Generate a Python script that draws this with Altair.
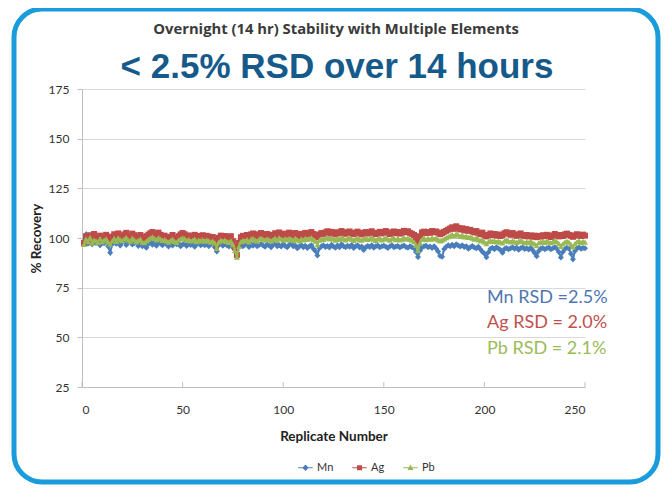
import altair as alt
import pandas as pd

# ---------------- data ----------------
series_names = ["Mn", "Ag", "Pb"]
series_colors = ["#4a7ebb", "#be4b48", "#98b954"]
series_shapes = ["diamond", "square", "triangle-up"]

mn = [98.5, 101.8, 97.2, 99.6, 96.8, 98.9, 97.5, 100.2, 96.4, 98.1,
      97.3, 99.0, 95.8, 92.6, 96.9, 98.4, 97.1, 99.3, 96.2, 97.8,
      98.6, 96.5, 97.9, 99.1, 96.7, 97.4, 98.2, 96.0, 97.6, 95.9,
      96.3, 95.1, 97.0, 98.3, 96.6, 97.7, 96.1, 98.0, 97.2, 96.4,
      97.8, 96.9, 95.7, 97.5, 96.2, 98.1, 96.8, 97.3, 95.9, 96.7,
      97.4, 96.0, 98.2, 96.5, 97.1, 95.6, 96.9, 97.7, 96.3, 97.0,
      96.4, 97.6, 95.8, 96.8, 97.2, 95.4, 93.2, 96.5, 97.3, 96.1,
      97.0, 96.3, 95.7, 96.9, 95.2, 96.0, 93.8, 96.4, 97.1, 95.9,
      96.6, 97.3, 95.5, 96.8, 96.1, 97.4, 95.8, 96.5, 97.0, 96.2,
      95.6, 96.9, 96.3, 95.4, 96.7, 97.2, 95.9, 96.4, 95.7, 96.8,
      96.0, 95.3, 96.6, 97.1, 95.8, 96.2, 94.9, 95.7, 96.5, 95.4,
      96.1, 95.0, 95.8, 96.4, 94.6, 93.4, 91.2, 94.8, 95.9, 96.3,
      95.5, 96.0, 95.2, 96.6, 95.7, 95.1, 96.2, 95.4, 96.8, 95.9,
      95.3, 96.1, 95.6, 96.5, 95.0, 95.8, 96.3, 95.2, 95.7, 93.9,
      95.4, 96.0, 95.5, 96.4, 95.1, 95.9, 96.2, 95.3, 95.8, 96.1,
      95.6, 95.0, 95.9, 96.3, 95.4, 95.7, 96.0, 95.2, 95.8, 96.2,
      95.5, 95.1, 95.9, 95.3, 94.8, 93.0, 90.4, 93.6, 95.2, 95.8,
      96.1, 95.4, 95.7, 95.0, 95.9, 94.7, 93.2, 91.0, 90.6, 94.5,
      95.6, 96.3, 95.8, 96.6, 95.9, 96.8, 96.2, 95.7, 96.4, 95.5,
      95.9, 94.6, 95.3, 96.0, 95.2, 94.8, 95.6, 94.3, 93.1, 92.2,
      90.3, 92.8, 94.6, 95.1, 94.4, 95.3, 94.7, 94.0, 92.6, 94.5,
      95.0, 94.3, 94.9, 95.4, 94.6, 95.2, 94.1, 94.8, 95.3, 94.5,
      94.9, 94.2, 95.1, 93.8, 92.4, 90.8, 93.5, 94.7, 95.0, 94.4,
      94.8, 95.2, 94.3, 94.9, 95.4, 94.6, 93.0, 90.2, 92.9, 94.5,
      95.1, 94.7, 92.1, 89.3, 93.4, 94.8, 95.2, 94.6, 95.0, 94.9]

ag = [97.5, 100.8, 99.2, 101.4, 98.6, 102.0, 100.1, 99.4, 101.2, 100.5,
      99.8, 101.6, 100.3, 98.9, 100.7, 101.9, 100.2, 102.3, 101.0, 100.4,
      101.8, 102.6, 101.1, 100.5, 102.2, 101.4, 99.9, 100.8, 101.5, 100.2,
      99.6, 100.9, 101.7, 102.4, 103.0, 102.1, 101.3, 102.7, 101.6, 100.8,
      101.2, 100.4, 99.3, 100.6, 101.5, 100.0, 99.5, 100.9, 101.8, 102.5,
      101.9, 100.7, 101.3, 100.1, 100.8, 101.6, 100.3, 101.0, 100.6, 101.4,
      100.2, 101.1, 100.7, 99.8, 100.5, 99.2, 97.0, 100.1, 101.2, 100.6,
      101.0, 100.3, 99.6, 100.9, 98.4, 95.2, 91.5, 97.6, 100.4, 101.1,
      100.7, 101.5, 100.2, 101.8, 102.3, 101.4, 100.6, 101.9, 102.5, 101.7,
      101.2, 102.0, 101.5, 100.8, 101.6, 102.4, 101.1, 102.8, 101.9, 101.3,
      102.2, 101.6, 102.7, 101.9, 101.2, 102.5, 101.8, 101.0, 102.1, 101.4,
      102.6, 101.7, 102.3, 103.0, 102.0, 101.5, 100.3, 101.8, 102.5, 101.9,
      102.8, 103.4, 102.2, 103.1, 102.6, 101.8, 102.9, 102.3, 103.5, 102.7,
      102.1, 102.9, 103.3, 102.5, 101.9, 102.7, 103.2, 102.4, 101.8, 102.6,
      103.0, 102.2, 102.8, 103.4, 102.5, 101.9, 102.6, 103.1, 102.3, 102.9,
      103.5, 102.7, 102.0, 102.8, 103.3, 102.4, 103.0, 102.2, 102.7, 103.6,
      102.9, 103.4, 102.6, 102.1, 101.5, 99.8, 97.6, 100.9, 102.8, 103.2,
      102.4, 103.0, 102.6, 103.5, 102.9, 103.3, 102.7, 101.9, 102.4, 103.1,
      103.6, 104.2, 104.8, 105.4, 104.6, 105.9, 105.1, 104.3, 104.9, 103.8,
      104.5, 103.6, 104.1, 103.3, 102.8, 103.5, 102.6, 101.9, 102.7, 101.4,
      100.8, 101.6, 102.3, 101.5, 102.0, 101.2, 101.8, 101.0, 101.5, 102.4,
      102.9, 102.2, 101.6, 102.5, 101.8, 101.1, 101.7, 102.3, 101.4, 100.9,
      101.5, 100.8, 101.3, 100.6, 101.2, 100.4, 101.0, 100.7, 101.4, 100.9,
      101.6, 101.1, 100.5, 101.3, 102.0, 101.4, 100.8, 101.5, 101.0, 101.8,
      102.2, 101.6, 101.1, 100.6, 101.3, 101.9, 101.4, 101.0, 101.7, 101.2]

pb = [96.8, 99.5, 98.1, 100.2, 97.4, 99.0, 98.6, 97.8, 99.7, 98.2,
      98.9, 99.6, 98.0, 96.9, 98.5, 99.8, 98.3, 100.1, 99.2, 98.7,
      99.5, 100.3, 99.0, 98.4, 99.9, 99.1, 98.2, 98.8, 99.4, 97.9,
      97.6, 98.5, 99.3, 100.0, 100.6, 99.8, 99.1, 100.2, 99.5, 98.8,
      99.2, 98.6, 97.9, 98.7, 99.4, 98.3, 97.8, 98.9, 99.6, 100.1,
      99.7, 98.8, 99.3, 98.5, 98.9, 99.4, 98.2, 99.0, 98.6, 99.2,
      98.4, 99.1, 98.7, 97.9, 98.6, 97.5, 94.8, 98.0, 98.9, 98.5,
      98.9, 98.3, 97.8, 98.6, 96.7, 93.6, 90.4, 95.8, 98.2, 98.8,
      98.5, 99.2, 98.0, 99.4, 99.8, 99.1, 98.4, 99.5, 100.0, 99.3,
      98.9, 99.6, 99.2, 98.6, 99.3, 99.9, 98.8, 100.2, 99.5, 99.0,
      99.7, 99.1, 99.8, 99.4, 98.7, 99.9, 99.2, 98.5, 99.6, 99.0,
      99.8, 99.3, 99.7, 100.1, 99.2, 98.4, 96.6, 98.9, 99.6, 99.3,
      99.9, 100.3, 99.5, 100.0, 99.6, 98.9, 99.8, 99.3, 100.2, 99.7,
      99.1, 99.8, 100.1, 99.4, 98.8, 99.6, 100.0, 99.2, 98.9, 99.5,
      99.9, 99.3, 99.7, 100.2, 99.4, 98.8, 99.5, 99.9, 99.1, 99.6,
      100.1, 99.5, 98.9, 99.7, 100.0, 99.2, 99.8, 99.0, 99.4, 100.2,
      99.6, 100.0, 99.3, 98.9, 98.1, 96.4, 93.8, 97.5, 99.4, 99.9,
      99.2, 99.7, 99.4, 100.1, 99.6, 99.9, 99.1, 98.6, 98.9, 99.5,
      100.2, 100.7, 101.2, 101.8, 101.0, 102.1, 101.5, 100.8, 101.4, 100.5,
      101.0, 100.3, 100.6, 99.9, 99.4, 100.1, 99.2, 98.6, 98.9, 98.0,
      97.2, 98.1, 98.8, 98.3, 98.7, 98.0, 98.5, 97.9, 97.5, 98.6,
      99.1, 98.4, 98.0, 98.7, 98.2, 97.8, 98.3, 98.9, 98.1, 97.6,
      98.2, 97.7, 98.4, 97.5, 97.0, 96.2, 97.6, 97.9, 98.3, 97.8,
      98.5, 98.0, 97.6, 98.2, 98.7, 98.1, 97.3, 95.8, 97.1, 98.0,
      98.4, 97.9, 96.8, 95.5, 97.2, 98.1, 98.6, 97.7, 98.3, 97.9]

replicates = list(range(1, len(mn) + 1))
x_ticks = [0, 50, 100, 150, 200, 250]
y_ticks = [25, 50, 75, 100, 125, 150, 175]

rsd_labels = ["Mn RSD =2.5%", "Ag RSD = 2.0%", "Pb RSD = 2.1%"]
rsd_colors = ["#4f76b3", "#c0504d", "#9bbb59"]

chart_title = "Overnight (14 hr) Stability with Multiple Elements"
headline = "< 2.5% RSD over 14 hours"

# legend symbols: a short line with the series marker on it
LINE = "M-1.8,-0.12H1.8V0.12H-1.8Z "
legend_paths = [LINE + "M0,-0.8L0.8,0L0,0.8L-0.8,0Z",
                LINE + "M-0.62,-0.62H0.62V0.62H-0.62Z",
                LINE + "M0,-0.8L0.75,0.55L-0.75,0.55Z"]

# ---------------- build ----------------
W, H = 503, 298
FONT = "Lato"

frames = []
for name, vals in zip(series_names, [mn, ag, pb]):
    frames.append(pd.DataFrame({"Replicate": replicates, "Recovery": vals, "Series": name}))
df = pd.concat(frames, ignore_index=True)

xscale = alt.Scale(domain=[0, 250], nice=False, zero=False)
yscale = alt.Scale(domain=[25, 175], nice=False, zero=False)

x_enc = alt.X("Replicate:Q", scale=xscale,
              axis=alt.Axis(values=x_ticks, title="Replicate Number", grid=False,
                            tickSize=0, labelPadding=17, titlePadding=14,
                            domainColor="#bfbfbf", labelFontSize=12, titleFontSize=13.5))
y_enc = alt.Y("Recovery:Q", scale=yscale,
              axis=alt.Axis(values=y_ticks, title="% Recovery", grid=True,
                            gridColor="#d9d9d9", tickSize=5, tickColor="#bfbfbf",
                            domainColor="#bfbfbf", labelPadding=8, titlePadding=5,
                            labelFontSize=12, titleFontSize=13.5))

layers = []
for name, col, shp in zip(series_names, series_colors, series_shapes):
    sub = alt.Chart(df).transform_filter(alt.datum.Series == name)
    layers.append(sub.mark_line(strokeWidth=2, color=col).encode(x=x_enc, y=y_enc))
    layers.append(sub.mark_point(filled=True, size=36, opacity=1, color=col, shape=shp)
                  .encode(x=x_enc, y=y_enc))

# legend carrier (no marks drawn, only the legend)
legend_layer = alt.Chart(df).transform_filter(alt.datum.Replicate < 0).mark_point(
    filled=True, opacity=1).encode(
    x=x_enc, y=y_enc,
    color=alt.Color("Series:N", scale=alt.Scale(domain=series_names, range=series_colors),
                    legend=alt.Legend(title=None, orient="none", direction="horizontal",
                                      legendX=218, legendY=373, labelFontSize=11,
                                      symbolSize=64, symbolOpacity=1, symbolStrokeWidth=0,
                                      labelOffset=6, columnPadding=18, labelColor="#333")),
    shape=alt.Shape("Series:N", scale=alt.Scale(domain=series_names, range=legend_paths)),
)

# upward x tick marks
ticks = alt.Chart(pd.DataFrame({"t": x_ticks})).mark_rule(color="#bfbfbf").encode(
    x=alt.X("t:Q", scale=xscale), y=alt.value(H - 5), y2=alt.value(H))

# RSD annotations
ann = alt.Chart(pd.DataFrame({"label": rsd_labels, "c": rsd_colors,
                              "yy": [209, 234, 260]})).mark_text(
    align="left", baseline="middle", fontSize=18, font=FONT).encode(
    x=alt.value(405), y=alt.Y("yy:Q", scale=None), text="label:N",
    color=alt.Color("c:N", scale=None))

titles = alt.Chart(pd.DataFrame({"a": [0]})).mark_text(
    text=chart_title, fontSize=14.8, fontWeight="bold", font="Open Sans", color="#3a3a3a",
    align="center", baseline="middle").encode(x=alt.value(254), y=alt.value(-59))
big = alt.Chart(pd.DataFrame({"a": [0]})).mark_text(
    text=headline, fontSize=35, fontWeight="bold", font="Liberation Sans", color="#155a8a",
    align="center", baseline="middle").encode(x=alt.value(255), y=alt.value(-22))

border = alt.Chart(pd.DataFrame({"a": [0]})).mark_rect(
    fillOpacity=0, stroke="#1a9bdc", strokeWidth=5, cornerRadius=28).encode(
    x=alt.value(-68), x2=alt.value(576), y=alt.value(-80), y2=alt.value(393))

chart = alt.layer(border, ticks, *layers, legend_layer, ann, titles, big).properties(
    width=W, height=H, autosize="none",
    padding={"left": 74, "top": 81, "right": 76, "bottom": 98},
).configure_view(stroke=None).configure_axis(
    labelFont=FONT, titleFont=FONT, labelColor="#333", titleColor="#222",
).configure_legend(labelFont=FONT)

chart.save("out.html", embed_options={"renderer": "svg", "actions": False})
